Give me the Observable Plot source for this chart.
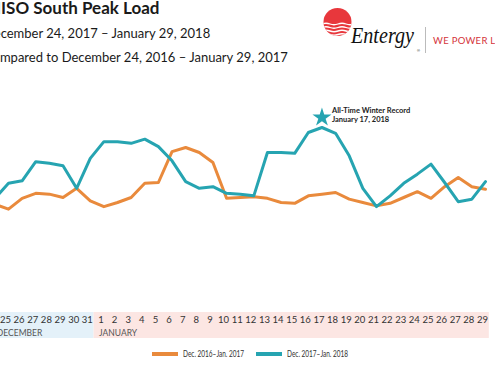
<!DOCTYPE html>
<html>
<head>
<meta charset="utf-8">
<script src="https://cdn.jsdelivr.net/npm/d3@7"></script>
<script src="https://cdn.jsdelivr.net/npm/@observablehq/plot@0.6"></script>
<style>
  html, body { margin: 0; padding: 0; background: #fff; }
  #wrap { position: relative; width: 495px; height: 365px; overflow: hidden; background: #fff; }
  .hdr { position: absolute; white-space: nowrap; color: #1a1a1a; font-family: Lato, "Open Sans", sans-serif; }
  #title { left: -15px; top: -3px; font-size: 17px; font-weight: 700; }
  #sub1 { left: -16px; top: 25px; font-size: 13px; }
  #sub2 { left: -16px; top: 49px; font-size: 13px; }
  #logo { position: absolute; left: 0; top: 0; }
  #chart { position: absolute; left: 0; top: 72px; }
  .leg { position: absolute; top: 348px; display: flex; align-items: center; font-family: Lato, sans-serif; font-size: 9px; color: #333; white-space: nowrap; }
  .leg span { display: inline-block; transform: scaleX(0.72); transform-origin: left center; }
  .sw { width: 26px; height: 4px; margin-right: 5px; }
</style>
</head>
<body>
<div id="wrap">
  <div class="hdr" id="title">MISO South Peak Load</div>
  <div class="hdr" id="sub1">December 24, 2017 – January 29, 2018</div>
  <div class="hdr" id="sub2">Compared to December 24, 2016 – January 29, 2017</div>
  <svg id="logo" width="495" height="72">
    <defs><clipPath id="cc"><circle cx="337.5" cy="22" r="14"/></clipPath></defs>
    <g clip-path="url(#cc)">
      <rect x="320" y="5" width="35" height="35" fill="#e8373c"/>
      <path d="M322 24 q4 -1.5 8 0 t8 0 t8 0 t8 0" stroke="#fff" stroke-width="1.3" fill="none"/>
      <path d="M322 27.5 q4 -1.5 8 0 t8 0 t8 0 t8 0" stroke="#fff" stroke-width="1.3" fill="none"/>
      <path d="M322 31 q4 -1.5 8 0 t8 0 t8 0 t8 0" stroke="#fff" stroke-width="1.4" fill="none"/>
      <path d="M322 34.5 q4 -1.5 8 0 t8 0 t8 0 t8 0" stroke="#fff" stroke-width="1.5" fill="none"/>
    </g>
    <text x="351" y="43" font-family="Liberation Serif, DejaVu Serif, serif" font-style="italic" font-size="23" fill="#111" textLength="63" lengthAdjust="spacingAndGlyphs">Entergy</text>
    <text x="417" y="52" font-family="Liberation Sans, sans-serif" font-size="4" fill="#111">®</text>
    <line x1="425.5" y1="27" x2="425.5" y2="53" stroke="#bbb" stroke-width="1"/>
    <text x="433" y="44" font-family="Lato, Liberation Sans, sans-serif" font-size="9.5" letter-spacing="0.3" fill="#d4333a">WE POWER LIFE</text>
  </svg>
  <div id="chart"></div>
  <div class="leg" style="left:152px"><div class="sw" style="background:#e98a3c"></div><span id="l0"></span></div>
  <div class="leg" style="left:256px"><div class="sw" style="background:#26a4b1"></div><span id="l1"></span></div>
</div>
<script>
// ---- data ----
const dayNumbers = [24,25,26,27,28,29,30,31,1,2,3,4,5,6,7,8,9,10,11,12,13,14,15,16,17,18,19,20,21,22,23,24,25,26,27,28,29];
const monthNames = ["DECEMBER", "JANUARY"];
const seriesNames = ["Dec. 2016–Jan. 2017", "Dec. 2017–Jan. 2018"];
// peak load, thousand MW
const load2016_17 = [22.8,22.2,23.5,24.1,24.0,23.6,24.7,23.2,22.5,23.0,23.6,25.3,25.4,29.1,29.6,29.0,27.8,23.5,23.6,23.7,23.5,23.0,22.9,23.8,24.0,24.2,23.4,23.0,22.6,22.9,23.6,24.3,23.5,24.9,26.0,24.9,24.6];
const load2017_18 = [23.5,25.3,25.6,27.9,27.7,27.4,24.7,28.3,30.3,30.3,30.1,30.6,29.7,28.0,25.5,24.7,24.9,24.1,24.0,23.8,29.0,29.0,28.9,31.4,32.0,31.3,28.6,24.7,22.5,23.8,25.3,26.4,27.6,25.4,23.1,23.4,25.5];
const recordDayIndex = [24];
const recordValue = [33.2];
const recordLabel = ["All-Time Winter Record", "January 17, 2018"];

// ---- derived tables ----
let m = 0;
const days = dayNumbers.map((d, i) => {
  if (i > 0 && d < dayNumbers[i - 1]) m++;
  return {i, day: d, month: monthNames[m]};
});
const months = monthNames.map(name => {
  const ds = days.filter(d => d.month === name);
  return {name, first: ds[0].i, last: ds[ds.length - 1].i};
});
const rowsA = days.map((d, k) => ({i: d.i, v: load2016_17[k]}));
const rowsB = days.map((d, k) => ({i: d.i, v: load2017_18[k]}));
const record = recordDayIndex.map((i, k) => ({i, v: recordValue[k], label: recordLabel.join("\n")}));

document.getElementById("l0").textContent = seriesNames[0];
document.getElementById("l1").textContent = seriesNames[1];

const ORANGE = "#e98a3c", TEAL = "#26a4b1";
const FONT = "Lato, sans-serif";

const chart = Plot.plot({
  width: 495,
  height: 273,
  marginLeft: 0, marginRight: 0, marginTop: 0, marginBottom: 0,
  style: {background: "transparent", overflow: "hidden"},
  x: {type: "linear", domain: [0, 36], range: [-5.63, 485], axis: null},
  y: {domain: [20, 34], range: [155, 38.33], axis: null},
  color: {domain: monthNames, range: ["#e4f1f9", "#fce6e3"]},
  marks: [
    Plot.rect(months, {x1: d => d.first - 0.5, x2: d => d.last + 0.5, fill: "name", insetTop: 240, insetBottom: 7, dx: -3}),
    Plot.text(days, {x: "i", text: d => String(d.day), frameAnchor: "bottom", dy: -23, dx: -3, fontSize: 9.5, fill: "#333", fontFamily: FONT, ariaLabel: "daylabels"}),
    Plot.text(months, {x: d => Math.max(d.first - 0.5, 0), text: "name", frameAnchor: "bottom", dy: -10, dx: 2, textAnchor: "start", fontSize: 8.5, fill: "#555", fontFamily: FONT, ariaLabel: "monthlabels"}),
    Plot.line(rowsA, {x: "i", y: "v", stroke: ORANGE, strokeWidth: 3}),
    Plot.line(rowsB, {x: "i", y: "v", stroke: TEAL, strokeWidth: 3}),
    Plot.dot(record, {x: "i", y: "v", symbol: "star", r: 6, fill: TEAL, stroke: "none"}),
    Plot.text(record, {x: "i", y: "v", text: "label", textAnchor: "start", dx: 10, dy: -3, fontSize: 7.5, fontWeight: "bold", fill: "#222", lineHeight: 1.2, fontFamily: FONT, ariaLabel: "recordlabel"})
  ]
});
function condense(label, s) {
  chart.querySelectorAll(`g[aria-label="${label}"] text`).forEach(t => {
    t.setAttribute("transform", (t.getAttribute("transform") || "") + ` scale(${s},1)`);
  });
}
condense("daylabels", 0.66);
condense("monthlabels", 0.72);
condense("recordlabel", 0.68);
document.getElementById("chart").appendChild(chart);
</script>
</body>
</html>
